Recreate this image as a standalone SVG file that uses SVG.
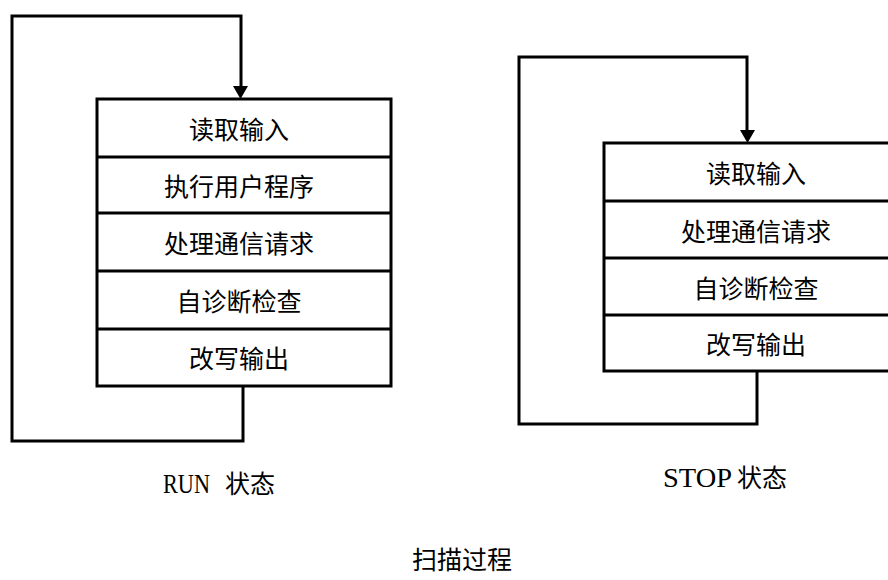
<svg xmlns="http://www.w3.org/2000/svg" width="888" height="580" viewBox="0 0 888 580">
<style>
.box{fill:#fff;stroke:#000;stroke-width:3}
.div{stroke:#000;stroke-width:3}
.wire{fill:none;stroke:#000;stroke-width:3}
.t{font-family:"Noto Sans CJK SC","Liberation Sans",sans-serif;font-size:25px;fill:#000;text-anchor:middle;dominant-baseline:central}
.lat{font-family:"Liberation Serif",serif;font-size:27px;fill:#000}
.cjk{font-family:"Noto Sans CJK SC",sans-serif;font-size:25px;fill:#000}
</style>
<rect width="888" height="580" fill="#fff"/>
<g id="connectors">
<path class="wire" d="M243,386 V441 H12 V16 H241 V86"/>
<polygon points="233,86 248,86 240.5,99" fill="#000"/>
<path class="wire" d="M757,371 V424 H519 V57 H747 V130"/>
<polygon points="740,130 755,130 747.5,143" fill="#000"/>
</g>
<g id="run-box">
<rect class="box" x="97" y="99" width="294" height="287"/>
<line class="div" x1="97" y1="157" x2="391" y2="157"/>
<line class="div" x1="97" y1="213" x2="391" y2="213"/>
<line class="div" x1="97" y1="271" x2="391" y2="271"/>
<line class="div" x1="97" y1="329" x2="391" y2="329"/>
<text class="t" x="239" y="128">读取输入</text>
<text class="t" x="239" y="185">执行用户程序</text>
<text class="t" x="239" y="242">处理通信请求</text>
<text class="t" x="239" y="300">自诊断检查</text>
<text class="t" x="239" y="357">改写输出</text>
</g>
<g id="stop-box">
<rect class="box" x="604" y="143" width="300" height="228"/>
<line class="div" x1="604" y1="201" x2="904" y2="201"/>
<line class="div" x1="604" y1="258" x2="904" y2="258"/>
<line class="div" x1="604" y1="315" x2="904" y2="315"/>
<text class="t" x="756" y="172">读取输入</text>
<text class="t" x="756" y="229.5">处理通信请求</text>
<text class="t" x="756" y="286.5">自诊断检查</text>
<text class="t" x="756" y="343">改写输出</text>
</g>
<g id="labels">
<text y="493"><tspan class="lat" x="163" textLength="47" lengthAdjust="spacingAndGlyphs">RUN</tspan><tspan class="cjk" x="225">状态</tspan></text>
<text y="487"><tspan class="lat" x="663" textLength="69" lengthAdjust="spacingAndGlyphs">STOP</tspan><tspan class="cjk" x="737">状态</tspan></text>
<text class="cjk" x="412" y="569">扫描过程</text>
</g>
</svg>
